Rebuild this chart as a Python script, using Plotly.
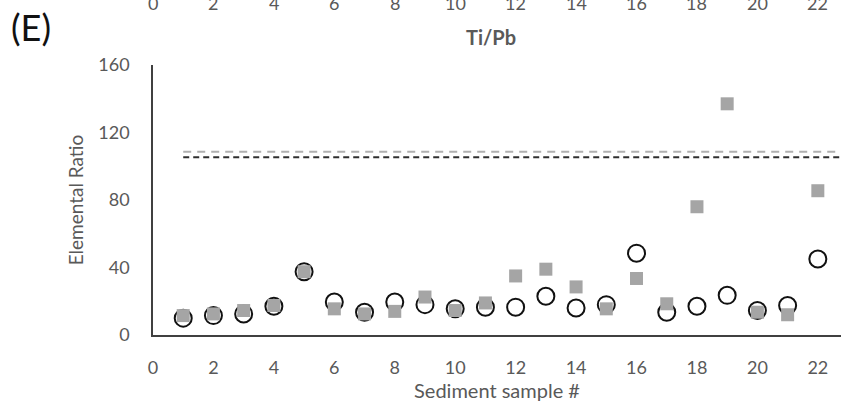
import plotly.graph_objects as go

samples = list(range(1, 24))
circle_vals = [10, 11.5, 12.5, 17, 37.5, 19.5, 13.5, 19.5, 18, 15.5, 16.5, 16.5, 23, 16, 18, 48.5, 13.5, 17, 23.5, 14.5, 17.5, 45, 13]
square_vals = [11.5, 12.5, 14.5, 17.5, 37.5, 15.5, 12.5, 14, 22.5, 14.5, 19, 35, 39, 28.5, 15.5, 33.5, 18.5, 76, 137, 13.5, 12, 85.5, None]
thr_x = [1, 24]
thr_gray = [108.6, 108.6]
thr_black = [105.3, 105.3]
x_ticks = list(range(0, 24, 2))
y_ticks = [0, 40, 80, 120, 160]

FONT = "Lato"
GRAY = "#595959"

fig = go.Figure()
fig.add_trace(go.Scatter(x=thr_x, y=thr_gray, mode="lines", cliponaxis=False,
                         line=dict(color="#b0b0b0", width=2, dash="8px,6px"), showlegend=False))
fig.add_trace(go.Scatter(x=thr_x, y=thr_black, mode="lines", cliponaxis=False,
                         line=dict(color="#303030", width=2, dash="6px,4px"), showlegend=False))
fig.add_trace(go.Scatter(x=samples, y=circle_vals, mode="markers", cliponaxis=False,
                         marker=dict(symbol="circle-open", size=17, color="#111111", line=dict(width=2, color="#111111")),
                         showlegend=False))
fig.add_trace(go.Scatter(x=samples, y=square_vals, mode="markers", cliponaxis=False,
                         marker=dict(symbol="square", size=13, color="#a5a5a5", line=dict(width=0)),
                         showlegend=False))

W, H = 841, 407
ml, mr, mt, mb = 153, 0, 65, 72
pw, ph = W - ml - mr, H - mt - mb
def px(xp):
    return (xp - ml) / pw
def py(yp):
    return 1 - (yp - mt) / ph

annotations = [
    dict(text="(E)", x=px(31), y=py(27), xref="paper", yref="paper", showarrow=False,
         xanchor="center", yanchor="middle", font=dict(family=FONT, size=36, color="#111111")),
    dict(text="<b>Ti/Pb</b>", x=px(491), y=py(37), xref="paper", yref="paper", showarrow=False,
         xanchor="center", yanchor="middle", font=dict(family=FONT, size=20, color=GRAY)),
]
for t in x_ticks:
    annotations.append(dict(text=str(t), x=t, y=py(3), xref="x", yref="paper", showarrow=False,
                            yanchor="middle", font=dict(family=FONT, size=18, color=GRAY)))

fig.update_layout(
    width=W, height=H,
    margin=dict(l=ml, r=mr, t=mt, b=mb, autoexpand=False),
    paper_bgcolor="white", plot_bgcolor="white",
    font=dict(family=FONT, size=18, color=GRAY),
    annotations=annotations,
    xaxis=dict(range=[0, pw / 30.22], tickvals=x_ticks, showgrid=False, zeroline=False,
               showline=True, linecolor="#404040", linewidth=1.5, ticks="",
               ticklabelstandoff=16, automargin=False,
               title=dict(text="Sediment sample #", font=dict(family=FONT, size=20, color=GRAY), standoff=6),
               tickfont=dict(family=FONT, size=18, color=GRAY)),
    yaxis=dict(range=[0, 160], tickvals=y_ticks, showgrid=False, zeroline=False,
               showline=True, linecolor="#404040", linewidth=1.5, ticks="",
               ticklabelstandoff=18, automargin=False,
               title=dict(text="Elemental Ratio", font=dict(family=FONT, size=19, color=GRAY), standoff=10),
               tickfont=dict(family=FONT, size=18, color=GRAY)),
)

fig.write_html("out.html")
